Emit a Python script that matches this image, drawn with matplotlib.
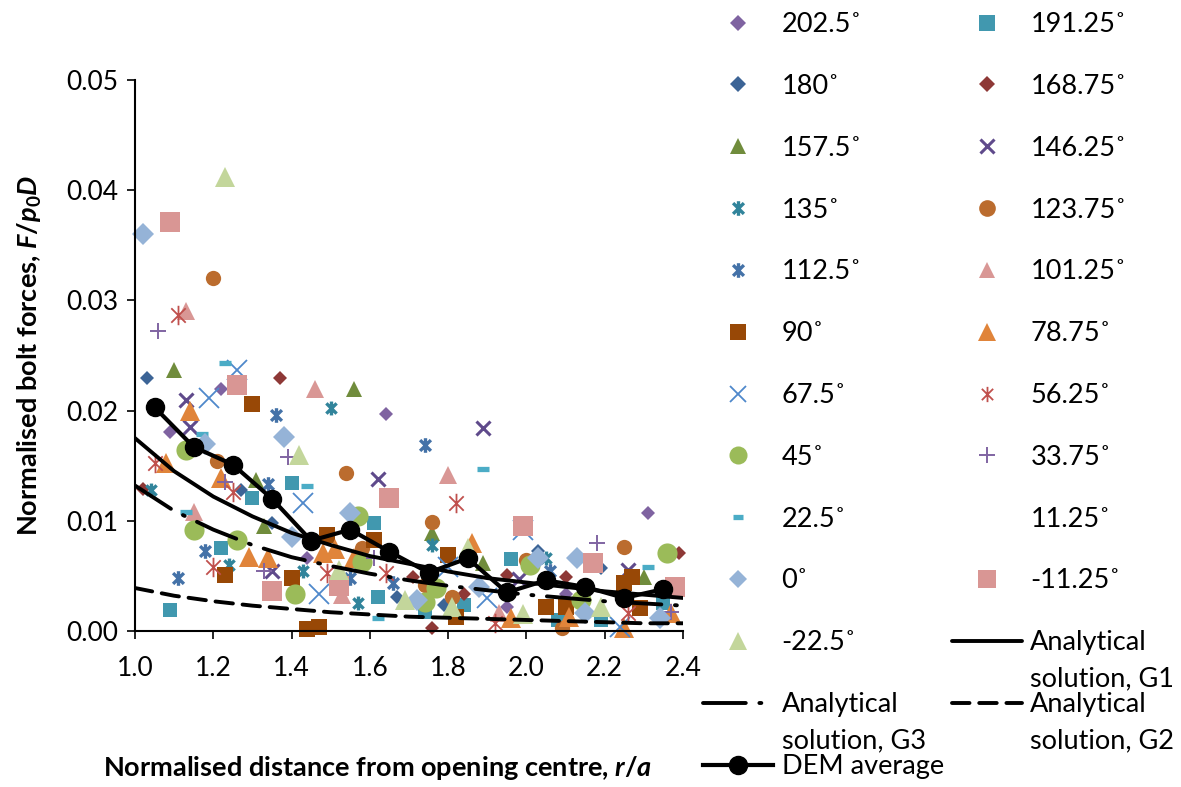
import numpy as np
import matplotlib
matplotlib.use('Agg')
import matplotlib.pyplot as plt
from matplotlib.path import Path
from matplotlib.lines import Line2D

plt.rcParams['font.family'] = ['Lato', 'DejaVu Sans']
plt.rcParams['mathtext.fontset'] = 'custom'
plt.rcParams['mathtext.rm'] = 'Lato:bold'
plt.rcParams['mathtext.it'] = 'Lato:bold:italic'
plt.rcParams['mathtext.bf'] = 'Lato:bold'

# ── data: r/a and F/p0D for each angle ───────────────────────────────────
r_2025 = [1.09, 1.22, 1.44, 1.64, 1.95, 2.10, 2.31]
f_2025 = [0.0181, 0.0220, 0.0066, 0.0197, 0.0022, 0.0034, 0.0107]
r_19125 = [1.09, 1.22, 1.30, 1.40, 1.61, 1.62, 1.74, 1.84, 1.96, 2.08, 2.19, 2.35]
f_19125 = [0.0019, 0.0075, 0.0121, 0.0134, 0.0098, 0.0031, 0.0017, 0.0024, 0.0065, 0.0010, 0.0010, 0.0025]
r_180 = [1.03, 1.27, 1.35, 1.67, 1.79, 2.03, 2.19]
f_180 = [0.0230, 0.0128, 0.0098, 0.0031, 0.0024, 0.0073, 0.0057]
r_16875 = [1.02, 1.37, 1.55, 1.71, 1.76, 1.84, 1.95, 2.10, 2.39]
f_16875 = [0.0129, 0.0230, 0.0110, 0.0049, 0.0003, 0.0034, 0.0051, 0.0049, 0.0071]
r_1575 = [1.10, 1.31, 1.33, 1.56, 1.76, 1.89, 2.30]
f_1575 = [0.0237, 0.0137, 0.0095, 0.0220, 0.0089, 0.0062, 0.0049]
r_14625 = [1.13, 1.14, 1.35, 1.62, 1.89, 1.98, 2.26]
f_14625 = [0.0210, 0.0185, 0.0054, 0.0138, 0.0184, 0.0047, 0.0055]
r_135 = [1.04, 1.24, 1.43, 1.50, 1.57, 1.76, 2.05]
f_135 = [0.0128, 0.0060, 0.0054, 0.0202, 0.0025, 0.0078, 0.0066]
r_12375 = [1.20, 1.21, 1.54, 1.58, 1.74, 1.76, 1.81, 2.00, 2.09, 2.25]
f_12375 = [0.0320, 0.0154, 0.0143, 0.0075, 0.0042, 0.0099, 0.0031, 0.0064, 0.0003, 0.0076]
r_1125 = [1.11, 1.18, 1.34, 1.36, 1.55, 1.66, 1.74, 2.06]
f_1125 = [0.0048, 0.0073, 0.0133, 0.0196, 0.0048, 0.0044, 0.0169, 0.0054]
r_10125 = [1.13, 1.15, 1.46, 1.53, 1.80, 1.93]
f_10125 = [0.0290, 0.0108, 0.0220, 0.0033, 0.0142, 0.0016]
r_90 = [1.23, 1.30, 1.40, 1.44, 1.47, 1.49, 1.61, 1.80, 1.82, 2.05, 2.10, 2.25, 2.27, 2.29]
f_90 = [0.0051, 0.0206, 0.0048, 0.0002, 0.0004, 0.0087, 0.0083, 0.0069, 0.0013, 0.0022, 0.0022, 0.0044, 0.0049, 0.0021]
r_7875 = [1.08, 1.14, 1.22, 1.29, 1.34, 1.48, 1.51, 1.56, 1.86, 1.96, 2.11, 2.25, 2.37]
f_7875 = [0.0152, 0.0200, 0.0139, 0.0067, 0.0066, 0.0071, 0.0074, 0.0066, 0.0080, 0.0012, 0.0013, 0.0003, 0.0016]
r_675 = [1.19, 1.26, 1.43, 1.47, 1.80, 1.90, 1.99, 2.24]
f_675 = [0.0211, 0.0237, 0.0116, 0.0034, 0.0058, 0.0030, 0.0092, 0.0004]
r_5625 = [1.05, 1.11, 1.20, 1.25, 1.49, 1.64, 1.82, 1.92, 2.26]
f_5625 = [0.0152, 0.0287, 0.0058, 0.0126, 0.0053, 0.0053, 0.0116, 0.0007, 0.0016]
r_45 = [1.13, 1.15, 1.26, 1.41, 1.57, 1.58, 1.74, 1.77, 2.01, 2.14, 2.36]
f_45 = [0.0164, 0.0092, 0.0083, 0.0034, 0.0104, 0.0063, 0.0026, 0.0039, 0.0060, 0.0028, 0.0071]
r_3375 = [1.06, 1.23, 1.33, 1.39, 1.61, 2.18, 2.37]
f_3375 = [0.0272, 0.0135, 0.0054, 0.0158, 0.0066, 0.0080, 0.0017]
r_225 = [1.13, 1.17, 1.23, 1.44, 1.62, 1.89, 2.31]
f_225 = [0.0108, 0.0179, 0.0243, 0.0132, 0.0012, 0.0147, 0.0058]
r_1125b = []
f_1125b = []
r_0 = [1.02, 1.18, 1.38, 1.40, 1.55, 1.72, 1.88, 2.03, 2.13, 2.15, 2.34]
f_0 = [0.0360, 0.0170, 0.0176, 0.0085, 0.0107, 0.0028, 0.0040, 0.0066, 0.0066, 0.0016, 0.0012]
r_m1125 = [1.09, 1.26, 1.35, 1.52, 1.65, 1.99, 2.17, 2.38]
f_m1125 = [0.0371, 0.0223, 0.0036, 0.0041, 0.0121, 0.0095, 0.0062, 0.0040]
r_m225 = [1.23, 1.42, 1.52, 1.69, 1.81, 1.85, 1.99, 2.19]
f_m225 = [0.0412, 0.0160, 0.0055, 0.0028, 0.0022, 0.0075, 0.0015, 0.0022]

# analytical curves and DEM average
r_line = [1.0, 1.1, 1.2, 1.3, 1.4, 1.5, 1.6, 1.7, 1.8, 1.9, 2.0, 2.1, 2.2, 2.3, 2.4]
f_g1 = [0.0175, 0.0145, 0.0122, 0.0104, 0.0089, 0.0078, 0.0068, 0.0061, 0.0054, 0.0048, 0.0044, 0.0040, 0.0036, 0.0033, 0.0030]
f_g3 = [0.0132, 0.0109, 0.0092, 0.0078, 0.0067, 0.0059, 0.0052, 0.0046, 0.0041, 0.0037, 0.0033, 0.0030, 0.0027, 0.0025, 0.0023]
f_g2 = [0.0039, 0.0032, 0.0027, 0.0023, 0.0020, 0.0017, 0.0015, 0.0013, 0.0012, 0.0011, 0.0010, 0.0009, 0.0008, 0.0007, 0.0007]
r_dem = [1.05, 1.15, 1.25, 1.35, 1.45, 1.55, 1.65, 1.75, 1.85, 1.95, 2.05, 2.15, 2.25, 2.35]
f_dem = [0.0203, 0.0167, 0.0151, 0.0120, 0.0082, 0.0092, 0.0072, 0.0053, 0.0066, 0.0035, 0.0046, 0.0040, 0.0030, 0.0038]

x_ticks = [1.0, 1.2, 1.4, 1.6, 1.8, 2.0, 2.2, 2.4]
y_ticks = [0.00, 0.01, 0.02, 0.03, 0.04, 0.05]

# X with a vertical bar, like Excel's star marker
star = Path([(-1, -1), (1, 1), (-1, 1), (1, -1), (0, -1.35), (0, 1.35)],
            [Path.MOVETO, Path.LINETO, Path.MOVETO, Path.LINETO, Path.MOVETO, Path.LINETO])

# label, x, y, marker, colour, plot size, edge width, legend size
series = [
    ('202.5˚', r_2025, f_2025, 'D', '#7F63A1', 6.8, 0, 8),
    ('191.25˚', r_19125, f_19125, 's', '#4198AF', 10, 0, 11),
    ('180˚', r_180, f_180, 'D', '#3C6496', 6.8, 0, 8),
    ('168.75˚', r_16875, f_16875, 'D', '#8E3836', 7.2, 0, 8),
    ('157.5˚', r_1575, f_1575, '^', '#708C3C', 11, 0, 12),
    ('146.25˚', r_14625, f_14625, 'x', '#5F4A8B', 9.5, 2.2, 10),
    ('135˚', r_135, f_135, star, '#31849B', 10, 2.4, 10.5),
    ('123.75˚', r_12375, f_12375, 'o', '#BB6C2E', 11, 0, 12),
    ('112.5˚', r_1125, f_1125, star, '#4472A8', 10.5, 2.4, 10.5),
    ('101.25˚', r_10125, f_10125, '^', '#D99795', 13, 0, 12),
    ('90˚', r_90, f_90, 's', '#984806', 11.5, 0, 12),
    ('78.75˚', r_7875, f_7875, '^', '#E0843A', 14.5, 0, 13),
    ('67.5˚', r_675, f_675, 'x', '#4F88CB', 14, 1.3, 11),
    ('56.25˚', r_5625, f_5625, star, '#C0504D', 14, 1.3, 11),
    ('45˚', r_45, f_45, 'o', '#9BBB59', 14.5, 0, 13),
    ('33.75˚', r_3375, f_3375, '+', '#8064A2', 12, 1.4, 11),
    ('22.5˚', r_225, f_225, '_', '#4BACC6', 9, 3.8, 7),
    ('11.25˚', r_1125b, f_1125b, 'None', '#F79646', 0, 0, 0),
    ('0˚', r_0, f_0, 'D', '#95B3D7', 11.2, 0, 9.5),
    ('-11.25˚', r_m1125, f_m1125, 's', '#D99694', 14.5, 0, 13),
    ('-22.5˚', r_m225, f_m225, '^', '#C3D69B', 14.5, 0, 13),
]

fig = plt.figure(figsize=(11.81, 7.87), dpi=100)
ax = fig.add_axes([135 / 1181, 1 - 631 / 787, 548 / 1181, 551 / 787])

handles = []
labels = []
for lab, xs, ys, mk, col, ms, mew, lms in series:
    line_marker = mk in ('x', '+', '_') or mk is star
    kw = dict(ls='none', marker=mk, color=col)
    if line_marker:
        kw.update(mew=mew)
    else:
        kw.update(mew=0)
    ax.plot(xs, ys, ms=ms, clip_on=False, **kw)
    handles.append(Line2D([], [], ms=lms, **kw))
    labels.append(lab)

l_g1, = ax.plot(r_line, f_g1, color='black', lw=2.8, solid_capstyle='round')
l_g3, = ax.plot(r_line, f_g3, color='black', lw=2.8, dashes=(11, 3.5, 0.5, 3.5), dash_capstyle='round')
l_g2, = ax.plot(r_line, f_g2, color='black', lw=2.8, dashes=(4.5, 2.5), dash_capstyle='round')
l_dem, = ax.plot(r_dem, f_dem, color='black', lw=3, marker='o', ms=13)
handles += [l_g1, l_g3, l_g2, l_dem]
labels += ['Analytical', 'Analytical', 'Analytical', 'DEM average']
second_lines = [None] * len(series) + ['solution, G1', 'solution, G3', 'solution, G2', None]

ax.set_xlim(1.0, 2.4)
ax.set_ylim(0, 0.05)
ax.set_xticks(x_ticks)
ax.set_yticks(y_ticks)
ax.set_xticklabels([f'{v:.1f}' for v in x_ticks])
ax.set_yticklabels([f'{v:.2f}' for v in y_ticks])
for s in ['top', 'right']:
    ax.spines[s].set_visible(False)
for s in ['left', 'bottom']:
    ax.spines[s].set_linewidth(1.5)
ax.tick_params(labelsize=19, length=6, width=1.2, direction='out')
ax.tick_params(axis='x', pad=12)
ax.tick_params(axis='y', pad=6)

ax.set_xlabel('Normalised distance from opening centre, $r/a$', fontsize=19.5,
              fontweight='bold', va='center')
ax.xaxis.set_label_coords((378 - 135) / 548, (631 - 768) / 551)
ax.set_ylabel('Normalised bolt forces, $F/p_\\mathrm{0}D$', fontsize=19.5,
              fontweight='bold', va='center')
ax.yaxis.set_label_coords((30 - 135) / 548, 0.5)

# legend order follows the chart: row by row, two columns
order = list(range(0, len(handles), 2)) + list(range(1, len(handles), 2))
leg = ax.legend([handles[i] for i in order], [labels[i] for i in order], ncol=2,
                loc='upper left', bbox_to_anchor=(703 / 1181, 1 - 12 / 787),
                bbox_transform=fig.transFigure, frameon=False, fontsize=19.5,
                handlelength=2.6, handletextpad=0.3, columnspacing=0.3,
                labelspacing=1.36, borderpad=0, borderaxespad=0)

fig.canvas.draw()
W, H = fig.canvas.get_width_height()
for t, i in zip(leg.get_texts(), order):
    if second_lines[i]:
        bb = t.get_window_extent()
        fig.text(bb.x0 / W, (bb.y0 - 36) / H, second_lines[i], fontsize=19.5,
                 va='bottom', ha='left')

fig.savefig('out.png', dpi=100)
